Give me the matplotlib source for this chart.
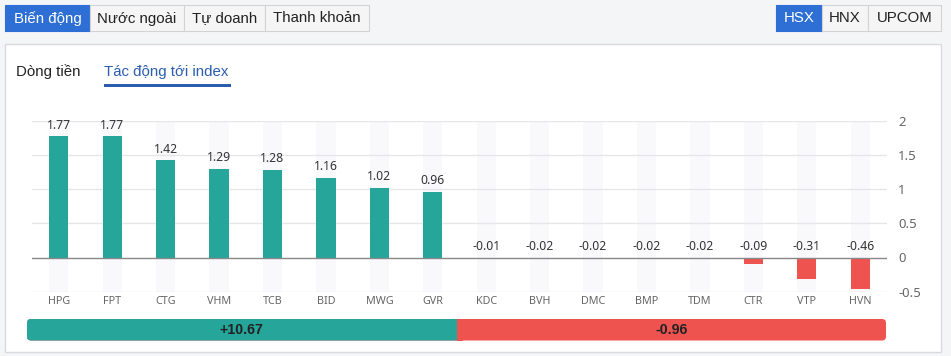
import matplotlib.pyplot as plt
from matplotlib.patches import Rectangle, FancyBboxPatch

# du lieu tac dong toi index (HSX)
ma_cp = ['HPG', 'FPT', 'CTG', 'VHM', 'TCB', 'BID', 'MWG', 'GVR',
         'KDC', 'BVH', 'DMC', 'BMP', 'TDM', 'CTR', 'VTP', 'HVN']
tac_dong = [1.77, 1.77, 1.42, 1.29, 1.28, 1.16, 1.02, 0.96,
            -0.01, -0.02, -0.02, -0.02, -0.02, -0.09, -0.31, -0.46]
tong_tang = '+10.67'
tong_giam = '-0.96'
y_ticks = [2, 1.5, 1, 0.5, 0, -0.5]
y_labels = ['2', '1.5', '1', '0.5', '0', '-0.5']
tabs_trai = ['Biến động', 'Nước ngoài', 'Tự doanh', 'Thanh khoản']
tabs_phai = ['HSX', 'HNX', 'UPCOM']

XANH = '#26a69a'
DO = '#ef5350'
BLUE = '#2d6fd4'

W, H = 951, 356
fig = plt.figure(figsize=(W / 100, H / 100), dpi=100)
fig.patch.set_facecolor('#f4f5f7')

# lop ve theo pixel (goc tren trai)
bg = fig.add_axes([0, 0, 1, 1])
bg.set_xlim(0, W)
bg.set_ylim(H, 0)
bg.axis('off')

def tab(x0, x1, text, active):
    fc = BLUE if active else '#f5f5f5'
    ec = BLUE if active else '#d3d3d3'
    bg.add_patch(Rectangle((x0, 5), x1 - x0, 26, facecolor=fc, edgecolor=ec, lw=0.8))
    bg.text((x0 + x1) / 2, 18.5, text, ha='center', va='center', fontsize=10.8,
            color='white' if active else '#222222', family='Liberation Sans')

xs = [5, 90, 184, 265, 369]
for i, t in enumerate(tabs_trai):
    tab(xs[i], xs[i + 1], t, i == 0)
xs = [776, 822, 868, 941]
for i, t in enumerate(tabs_phai):
    tab(xs[i], xs[i + 1], t, i == 0)

# khung trang
bg.add_patch(Rectangle((5, 43.5), 936, 308.5, facecolor='white', edgecolor='#d9d9de', lw=1))
bg.text(16, 72, 'Dòng tiền', ha='left', va='center', fontsize=10.8, color='#222222',
        family='Liberation Sans')
bg.text(104, 72, 'Tác động tới index', ha='left', va='center', fontsize=10.8, color='#2a5db0',
        family='Liberation Sans')
bg.add_patch(Rectangle((104, 84), 127, 3, facecolor='#2a5db0', lw=0))

# thanh tong ket: chia theo so ma tang / giam
n_tang = sum(1 for v in tac_dong if v > 0)
n_giam = sum(1 for v in tac_dong if v < 0)
x_left, x_right = 27, 886
x_split = x_left + (x_right - x_left) * n_tang / (n_tang + n_giam)
bg.add_patch(FancyBboxPatch((x_left, 319), x_right - x_left, 21.5,
                            boxstyle='round,pad=0,rounding_size=4', facecolor=DO, lw=0))
bg.add_patch(FancyBboxPatch((x_left, 319), x_split - x_left + 6, 21.5,
                            boxstyle='round,pad=0,rounding_size=4', facecolor=XANH, lw=0))
bg.add_patch(Rectangle((x_split, 319), 6, 21.5, facecolor=DO, lw=0))
bg.text((x_left + x_split) / 2, 330, tong_tang, ha='center', va='center', fontsize=10.2,
        fontweight='bold', color='#222222', family='Liberation Sans')
bg.text((x_split + x_right) / 2, 330, tong_giam, ha='center', va='center', fontsize=10.2,
        fontweight='bold', color='#222222', family='Liberation Sans')

# bieu do cot
ax = fig.add_axes([32 / W, 1 - 291.7 / H, 855 / W, 171 / H])
ax.set_facecolor('none')
x = range(len(ma_cp))
bw = 0.36
ax.bar(x, [2.5] * len(ma_cp), bottom=-0.5, width=bw, color='#f9f9fb', zorder=1)
mau = [XANH if v >= 0 else DO for v in tac_dong]
ax.bar(x, tac_dong, width=bw, color=mau, zorder=3)
for i, v in enumerate(tac_dong):
    ax.annotate(f'{v:.2f}', (i, max(v, 0)), xytext=(0, 3.5), textcoords='offset points',
                ha='center', va='bottom', fontsize=8.8, color='#333333', family='Noto Sans')

for t in y_ticks:
    ax.axhline(t, color='#888888' if t == 0 else '#e6e6ea', lw=1, zorder=2 if t else 4)

ax.set_xlim(-0.5, len(ma_cp) - 0.5)
ax.set_ylim(-0.5, 2)
ax.set_xticks(list(x))
ax.set_xticklabels(ma_cp, fontsize=7.8, color='#666666', family='Noto Sans')
ax.set_yticks(y_ticks)
ax.set_yticklabels(y_labels, fontsize=9.4, color='#666666', family='Noto Sans')
ax.yaxis.tick_right()
ax.tick_params(axis='x', length=0, pad=3)
ax.tick_params(axis='y', length=0, pad=8)
for s in ax.spines.values():
    s.set_visible(False)

fig.savefig('out.png', dpi=100, facecolor=fig.get_facecolor())
